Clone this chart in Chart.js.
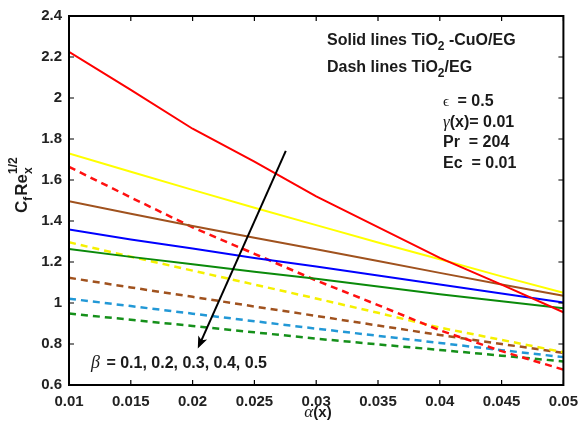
<!DOCTYPE html>
<html>
<head>
<meta charset="utf-8">
<script src="https://cdn.jsdelivr.net/npm/chart.js@4.4.1/dist/chart.umd.min.js"></script>
<style>
html,body{margin:0;padding:0;background:#fff;}
#wrap{width:586px;height:424px;}
</style>
</head>
<body>
<div id="wrap"><canvas id="c" width="586" height="424"></canvas></div>
<script>
// ---- data ----
const alpha = [0.01, 0.015, 0.02, 0.025, 0.03, 0.035, 0.04, 0.045, 0.05];
// Solid lines TiO2-CuO/EG (beta = 0.1 .. 0.5)
const solidB1 = [2.225, 2.04, 1.85, 1.69, 1.52, 1.37, 1.22, 1.09, 0.955];
const solidB2 = [1.73, 1.64, 1.552, 1.465, 1.38, 1.295, 1.213, 1.13, 1.05];
const solidB3 = [1.496, 1.435, 1.376, 1.318, 1.262, 1.205, 1.147, 1.09, 1.035];
const solidB4 = [1.358, 1.31, 1.266, 1.22, 1.178, 1.134, 1.09, 1.046, 1.003];
const solidB5 = [1.264, 1.225, 1.189, 1.153, 1.118, 1.08, 1.043, 1.008, 0.974];
// Dash lines TiO2/EG
const dashB1 = [1.664, 1.515, 1.369, 1.24, 1.11, 0.99, 0.867, 0.765, 0.675];
const dashB2 = [1.296, 1.226, 1.158, 1.09, 1.022, 0.952, 0.88, 0.82, 0.76];
const dashB3 = [1.123, 1.076, 1.03, 0.983, 0.937, 0.89, 0.844, 0.80, 0.757];
const dashB4 = [1.021, 0.985, 0.948, 0.911, 0.875, 0.84, 0.805, 0.77, 0.736];
const dashB5 = [0.949, 0.918, 0.888, 0.857, 0.826, 0.798, 0.771, 0.743, 0.715];
const xTicks = [0.01, 0.015, 0.02, 0.025, 0.03, 0.035, 0.04, 0.045, 0.05];
const yTicks = [0.6, 0.8, 1, 1.2, 1.4, 1.6, 1.8, 2, 2.2, 2.4];
// arrow (data coordinates): from top to tip
const arrowFrom = {x: 0.02754, y: 1.742};
const arrowTo = {x: 0.02042, y: 0.778};

const colors = {
  red: '#ff0000', yellow: '#ffff00', brown: '#a0521e', blue: '#0000ff', green: '#0a8a0a',
  dred: '#ff1010', dyellow: '#f5f000', dbrown: '#a0521e', dblue: '#2298d6', dgreen: '#15901a'
};
function pts(ys){ return alpha.map((a,i)=>({x:a, y:ys[i]})); }
function solid(ys,c){ return {data:pts(ys), borderColor:c, borderWidth:2, pointRadius:0, tension:0, fill:false}; }
function dash(ys,c){ return {data:pts(ys), borderColor:c, borderWidth:2.5, borderDash:[7,5], pointRadius:0, tension:0, fill:false}; }

const FONT = '"Liberation Sans", Arial, sans-serif';
const SERIF = '"Liberation Serif", "DejaVu Serif", serif';

const decor = {
  id: 'decor',
  afterDraw(chart){
    const ctx = chart.ctx, a = chart.chartArea, xs = chart.scales.x, ys = chart.scales.y;
    ctx.save();
    // ticks inside, all four sides
    ctx.strokeStyle = '#000'; ctx.lineWidth = 1.2;
    const tl = 5;
    xTicks.forEach(v=>{
      const px = xs.getPixelForValue(v);
      ctx.beginPath(); ctx.moveTo(px, a.bottom); ctx.lineTo(px, a.bottom - tl);
      ctx.moveTo(px, a.top); ctx.lineTo(px, a.top + tl); ctx.stroke();
    });
    yTicks.forEach(v=>{
      const py = ys.getPixelForValue(v);
      ctx.beginPath(); ctx.moveTo(a.left, py); ctx.lineTo(a.left + tl, py);
      ctx.moveTo(a.right, py); ctx.lineTo(a.right - tl, py); ctx.stroke();
    });
    // frame
    ctx.lineWidth = 2;
    ctx.strokeRect(a.left, a.top, a.right - a.left, a.bottom - a.top);

    // arrow
    const x1 = xs.getPixelForValue(arrowFrom.x), y1 = ys.getPixelForValue(arrowFrom.y);
    const x2 = xs.getPixelForValue(arrowTo.x), y2 = ys.getPixelForValue(arrowTo.y);
    ctx.lineWidth = 2; ctx.strokeStyle = '#000'; ctx.fillStyle = '#000';
    const ang = Math.atan2(y2 - y1, x2 - x1);
    const hl = 13, hw = 0.38;
    ctx.beginPath(); ctx.moveTo(x1, y1); ctx.lineTo(x2 - Math.cos(ang)*4, y2 - Math.sin(ang)*4); ctx.stroke();
    ctx.beginPath();
    ctx.moveTo(x2, y2);
    ctx.lineTo(x2 - hl*Math.cos(ang - hw), y2 - hl*Math.sin(ang - hw));
    ctx.lineTo(x2 - hl*0.7*Math.cos(ang), y2 - hl*0.7*Math.sin(ang));
    ctx.lineTo(x2 - hl*Math.cos(ang + hw), y2 - hl*Math.sin(ang + hw));
    ctx.closePath(); ctx.fill();

    // texts
    ctx.fillStyle = '#1a1a1a';
    ctx.textBaseline = 'alphabetic'; ctx.textAlign = 'left';
    function run(parts, x, y){
      let cx = x;
      parts.forEach(p=>{
        ctx.font = p.f;
        ctx.fillText(p.t, cx, y + (p.dy||0));
        cx += ctx.measureText(p.t).width + (p.gap||0);
      });
      return cx;
    }
    const B16 = 'bold 16px ' + FONT, B12 = 'bold 12px ' + FONT, B15 = 'bold 15px ' + FONT;
    run([{t:'Solid lines TiO', f:B16},{t:'2', f:B12, dy:5},{t:' -CuO/EG', f:B16}], 327, 45);
    run([{t:'Dash lines TiO', f:B16},{t:'2', f:B12, dy:5},{t:'/EG', f:B16}], 327, 72);
    run([{t:'\u03F5', f:'15px ' + SERIF, gap:4},{t:' = 0.5', f:B16}], 443, 106);
    run([{t:'\u03B3', f:'italic 17px ' + SERIF},{t:'(x)= 0.01', f:B16}], 443, 127);
    run([{t:'Pr  = 204', f:B16}], 443, 147);
    run([{t:'Ec  = 0.01', f:B16}], 443, 168);
    run([{t:'\u03B2', f:'italic 18px ' + SERIF, gap:2},{t:' = 0.1, 0.2, 0.3, 0.4, 0.5', f:B16}], 91, 368);

    // x title
    ctx.font = 'italic 17px ' + SERIF;
    const wA = ctx.measureText('\u03B1').width;
    ctx.font = B15;
    const wX = ctx.measureText('(x)').width;
    run([{t:'\u03B1', f:'italic 17px ' + SERIF},{t:'(x)', f:B15}], 318 - (wA + wX)/2, 417);

    // y title rotated
    ctx.save();
    ctx.translate(27, 213);
    ctx.rotate(-Math.PI/2);
    const M17 = 'bold 17px ' + FONT, S12 = 'bold 12px ' + FONT;
    let cx = 0;
    ctx.font = M17; ctx.fillText('C', cx, 0); cx += ctx.measureText('C').width;
    ctx.font = S12; ctx.fillText('f', cx, 5); cx += ctx.measureText('f').width + 1;
    ctx.font = M17; ctx.fillText('Re', cx, 0); cx += ctx.measureText('Re').width;
    ctx.font = S12; ctx.fillText('x', cx, 5); ctx.fillText('1/2', cx, -10);
    ctx.restore();
    ctx.restore();
  }
};

new Chart(document.getElementById('c'), {
  type: 'line',
  data: {
    datasets: [
      solid(solidB1, colors.red), solid(solidB2, colors.yellow), solid(solidB3, colors.brown),
      solid(solidB4, colors.blue), solid(solidB5, colors.green),
      dash(dashB1, colors.dred), dash(dashB2, colors.dyellow), dash(dashB3, colors.dbrown),
      dash(dashB4, colors.dblue), dash(dashB5, colors.dgreen)
    ]
  },
  options: {
    responsive: false, animation: false,
    layout: {padding: {left: 0, right: 22, top: 11, bottom: 0}},
    plugins: {legend: {display: false}, tooltip: {enabled: false}},
    scales: {
      x: {
        type: 'linear', min: 0.01, max: 0.05,
        grid: {display: false, drawTicks: false}, border: {display: false},
        afterBuildTicks: s => { s.ticks = xTicks.map(v => ({value: v})); },
        afterFit: s => { s.height = 39; },
        ticks: {padding: 8, color: '#222', font: {family: FONT, size: 15, weight: 'bold'},
          maxRotation: 0, autoSkip: false,
          callback: v => String(Number(v.toFixed(3)))}
      },
      y: {
        type: 'linear', min: 0.6, max: 2.4,
        grid: {display: false, drawTicks: false}, border: {display: false},
        afterBuildTicks: s => { s.ticks = yTicks.map(v => ({value: v})); },
        afterFit: s => { s.width = 69; },
        ticks: {padding: 7, color: '#222', font: {family: FONT, size: 15, weight: 'bold'},
          autoSkip: false,
          callback: v => String(Number(v.toFixed(1)))}
      }
    }
  },
  plugins: [decor]
});
</script>
</body>
</html>
